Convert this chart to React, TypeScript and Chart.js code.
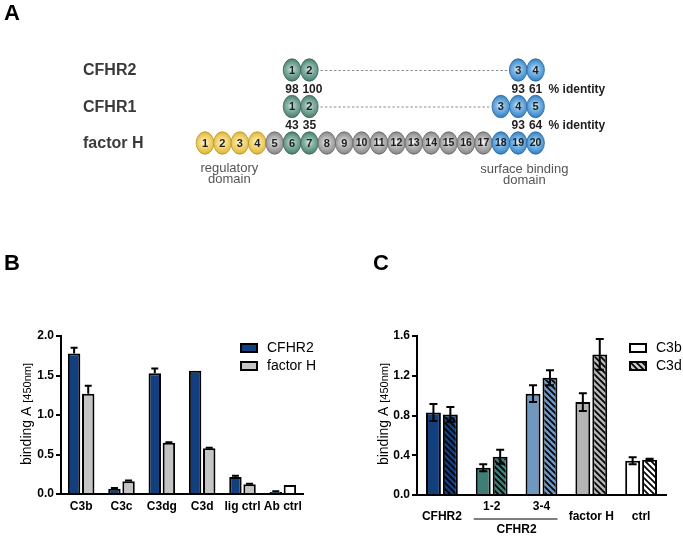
import React, { useEffect, useRef } from 'react';
import { Chart, registerables } from 'chart.js';

Chart.register(...registerables);

const FONT = '"Liberation Sans", Arial, Helvetica, sans-serif';

// ---------------- Panel A data ----------------
const proteinNames = ['CFHR2', 'CFHR1', 'factor H'];
const proteinRows = [3, 2, 1];
const cfhr2Positions = [6, 7, 19, 20];
const cfhr2Labels = ['1', '2', '3', '4'];
const cfhr2Types = ['teal', 'teal', 'blue', 'blue'];
const cfhr1Positions = [6, 7, 18, 19, 20];
const cfhr1Labels = ['1', '2', '3', '4', '5'];
const cfhr1Types = ['teal', 'teal', 'blue', 'blue', 'blue'];
const factorHPositions = [1, 2, 3, 4, 5, 6, 7, 8, 9, 10, 11, 12, 13, 14, 15, 16, 17, 18, 19, 20];
const factorHLabels = ['1', '2', '3', '4', '5', '6', '7', '8', '9', '10', '11', '12', '13', '14', '15', '16', '17', '18', '19', '20'];
const factorHTypes = ['yellow', 'yellow', 'yellow', 'yellow', 'gray', 'teal', 'teal', 'gray', 'gray', 'gray', 'gray', 'gray', 'gray', 'gray', 'gray', 'gray', 'gray', 'blue', 'blue', 'blue'];
const identityRows = [2.5, 1.5];
const identityPositions = [6, 7, 19, 20];
const identityCFHR2 = ['98', '100', '93', '61'];
const identityCFHR1 = ['43', '35', '93', '64'];

// ---------------- Panel B data ----------------
const bCategories = ['C3b', 'C3c', 'C3dg', 'C3d', 'lig ctrl', 'Ab ctrl'];
const bCFHR2 = [1.78, 0.065, 1.53, 1.56, 0.215, 0.025];
const bFactorH = [1.27, 0.16, 0.65, 0.58, 0.125, 0.115];
const bCFHR2Err = [0.07, 0.01, 0.06, 0, 0.015, 0.01];
const bFactorHErr = [0.1, 0.01, 0.005, 0.005, 0.005, 0];
const bYTicks = [0, 0.5, 1.0, 1.5, 2.0];

// ---------------- Panel C data ----------------
const cGroups = ['CFHR2', '1-2', '3-4', 'factor H', 'ctrl'];
const cC3b = [0.83, 0.275, 1.02, 0.935, 0.345];
const cC3d = [0.81, 0.385, 1.18, 1.415, 0.355];
const cC3bErr = [0.085, 0.035, 0.085, 0.09, 0.035];
const cC3dErr = [0.075, 0.07, 0.075, 0.155, 0.01];
const cYTicks = [0, 0.4, 0.8, 1.2, 1.6];

const NAVY = '#123f7e';
const GRAY = '#c4c4c4';
const cColors = ['#133f7d', '#3f7d77', '#7097c0', '#b4b4b4', '#ffffff'];

const palette: Record<string, string[]> = {
  yellow: ['#fff7d2', '#f6dc80', '#e2b93e', '#b8952e'],
  teal: ['#d2e6df', '#8ab5a8', '#4f8475', '#3a6457'],
  gray: ['#f0f0f0', '#bdbdbd', '#8c8c8c', '#686868'],
  blue: ['#d6ecfb', '#7db7e4', '#3a87c9', '#2a65a0'],
};

function drawDomain(ctx: CanvasRenderingContext2D, x: number, y: number, type: string, label: string) {
  const [c0, c1, c2, c3] = palette[type];
  const rx = 8.8;
  const ry = 11.2;
  const g = ctx.createRadialGradient(x - 0.5, y - 1, 0.5, x, y, 12);
  g.addColorStop(0, c0);
  g.addColorStop(0.35, c1);
  g.addColorStop(0.85, c2);
  g.addColorStop(1, c3);
  ctx.beginPath();
  ctx.ellipse(x, y, rx, ry, 0, 0, Math.PI * 2);
  ctx.fillStyle = g;
  ctx.fill();
  ctx.lineWidth = 0.8;
  ctx.strokeStyle = c3;
  ctx.stroke();
  ctx.fillStyle = '#1c1c1c';
  ctx.font = `bold ${label.length > 1 ? 10.5 : 11}px ${FONT}`;
  ctx.textAlign = 'center';
  ctx.textBaseline = 'middle';
  ctx.fillText(label, x, y + 0.5);
}

function makeHatch(color: string): CanvasPattern {
  const s = 6;
  const c = document.createElement('canvas');
  c.width = s;
  c.height = s;
  const g = c.getContext('2d')!;
  g.fillStyle = color;
  g.fillRect(0, 0, s, s);
  g.strokeStyle = '#000';
  g.lineWidth = 1.7;
  g.beginPath();
  g.moveTo(-1, -1);
  g.lineTo(s + 1, s + 1);
  g.moveTo(s - 1, -1);
  g.lineTo(s + 1, 1);
  g.moveTo(-1, s - 1);
  g.lineTo(1, s + 1);
  g.stroke();
  return g.createPattern(c, 'repeat')!;
}

function drawYTitle(ctx: CanvasRenderingContext2D, x: number, yc: number) {
  ctx.save();
  ctx.translate(x, yc);
  ctx.rotate(-Math.PI / 2);
  ctx.fillStyle = '#000';
  ctx.textAlign = 'left';
  ctx.textBaseline = 'alphabetic';
  const t1 = 'binding A';
  const t2 = '[450nm]';
  ctx.font = `14px ${FONT}`;
  const w1 = ctx.measureText(t1).width;
  ctx.font = `11px ${FONT}`;
  const w2 = ctx.measureText(t2).width;
  const gap = 4;
  const W = w1 + gap + w2;
  ctx.font = `14px ${FONT}`;
  ctx.fillText(t1, -W / 2, 0);
  ctx.font = `11px ${FONT}`;
  ctx.fillText(t2, -W / 2 + w1 + gap, 0);
  ctx.restore();
}

function drawLegendItem(ctx: CanvasRenderingContext2D, x: number, y: number, fill: string | CanvasPattern, text: string) {
  ctx.save();
  ctx.fillStyle = fill as any;
  ctx.fillRect(x, y, 18, 10);
  ctx.lineWidth = 2;
  ctx.strokeStyle = '#000';
  ctx.strokeRect(x + 1, y + 1, 16, 8);
  ctx.fillStyle = '#000';
  ctx.font = `14px ${FONT}`;
  ctx.textAlign = 'left';
  ctx.textBaseline = 'middle';
  ctx.fillText(text, x + 27, y + 5.5);
  ctx.restore();
}

function drawPanelLetter(ctx: CanvasRenderingContext2D, letter: string, x: number, y: number) {
  ctx.save();
  ctx.fillStyle = '#000';
  ctx.font = `bold 22px ${FONT}`;
  ctx.textAlign = 'left';
  ctx.textBaseline = 'middle';
  ctx.fillText(letter, x, y);
  ctx.restore();
}

const errorBarPlugin = {
  id: 'errorBars',
  afterDatasetsDraw(chart: any, _args: any, opts: any) {
    const ctx = chart.ctx as CanvasRenderingContext2D;
    const ys = chart.scales.y;
    ctx.save();
    ctx.strokeStyle = '#000';
    ctx.lineWidth = opts.lineWidth || 2;
    chart.data.datasets.forEach((ds: any, di: number) => {
      const errs = ds.errors;
      if (!errs) return;
      const meta = chart.getDatasetMeta(di);
      meta.data.forEach((el: any, i: number) => {
        const e = errs[i];
        if (!e) return;
        const v = ds.data[i];
        const top = ys.getPixelForValue(v + e);
        const bot = opts.both ? ys.getPixelForValue(v - e) : ys.getPixelForValue(v);
        const hw = opts.cap;
        ctx.beginPath();
        ctx.moveTo(el.x, bot);
        ctx.lineTo(el.x, top);
        ctx.moveTo(el.x - hw, top);
        ctx.lineTo(el.x + hw, top);
        if (opts.both) {
          ctx.moveTo(el.x - hw, bot);
          ctx.lineTo(el.x + hw, bot);
        }
        ctx.stroke();
      });
    });
    ctx.restore();
  },
};

const domainPlugin = {
  id: 'domains',
  afterDatasetsDraw(chart: any) {
    const ctx = chart.ctx as CanvasRenderingContext2D;
    const xs = chart.scales.x;
    const ys = chart.scales.y;
    ctx.save();
    chart.data.datasets.forEach((ds: any, di: number) => {
      const pts = chart.getDatasetMeta(di).data;
      if (ds.gapAfter != null) {
        const a = pts[ds.gapAfter];
        const b = pts[ds.gapAfter + 1];
        ctx.save();
        ctx.strokeStyle = '#8f8f8f';
        ctx.lineWidth = 1;
        ctx.setLineDash([2.5, 2]);
        ctx.beginPath();
        ctx.moveTo(a.x + 11, a.y + 0.5);
        ctx.lineTo(b.x - 11, b.y + 0.5);
        ctx.stroke();
        ctx.restore();
      }
      pts.forEach((p: any, i: number) => drawDomain(ctx, p.x, p.y, ds.domainTypes[i], ds.domainLabels[i]));
    });

    // protein names
    ctx.fillStyle = '#3a3a3a';
    ctx.font = `bold 16px ${FONT}`;
    ctx.textAlign = 'left';
    ctx.textBaseline = 'middle';
    proteinNames.forEach((n, i) => ctx.fillText(n, 83, ys.getPixelForValue(proteinRows[i]) + 1));

    // identities
    const idSets = [identityCFHR2, identityCFHR1];
    ctx.fillStyle = '#1e1e1e';
    ctx.font = `bold 12px ${FONT}`;
    idSets.forEach((set, r) => {
      const y = ys.getPixelForValue(identityRows[r]) + 1;
      ctx.textAlign = 'center';
      set.forEach((t, i) => {
        const nudge = t.length > 2 ? 3 : 0;
        ctx.fillText(t, xs.getPixelForValue(identityPositions[i]) + nudge, y);
      });
      ctx.textAlign = 'left';
      ctx.fillText('% identity', xs.getPixelForValue(20) + 13, y);
    });

    // domain annotations
    const fy = ys.getPixelForValue(1);
    ctx.fillStyle = '#555';
    ctx.font = `13px ${FONT}`;
    ctx.textAlign = 'center';
    const rx = xs.getPixelForValue(2.4);
    ctx.fillText('regulatory', rx, fy + 25);
    ctx.fillText('domain', rx, fy + 36);
    const sx = xs.getPixelForValue(19.35);
    ctx.fillText('surface binding', sx, fy + 26);
    ctx.fillText('domain', sx, fy + 37);

    ctx.restore();
    drawPanelLetter(ctx, 'A', 4, 14);
  },
};

export default function App() {
  const aRef = useRef<HTMLCanvasElement>(null);
  const bRef = useRef<HTMLCanvasElement>(null);
  const cRef = useRef<HTMLCanvasElement>(null);

  useEffect(() => {
    const charts: Chart[] = [];

    // ---------- Panel A ----------
    const unit = 17.4;
    const xMin = 1 - 205 / unit;
    const xMax = xMin + 683 / unit;
    const rowPx = 36.5;
    const yMax = 3 + 70 / rowPx;
    const yMin = yMax - 240 / rowPx;
    const mk = (pos: number[], row: number) => pos.map((p) => ({ x: p, y: row }));
    charts.push(
      new Chart(aRef.current!, {
        type: 'scatter',
        data: {
          datasets: [
            { label: 'CFHR2', data: mk(cfhr2Positions, proteinRows[0]), domainTypes: cfhr2Types, domainLabels: cfhr2Labels, gapAfter: 1 } as any,
            { label: 'CFHR1', data: mk(cfhr1Positions, proteinRows[1]), domainTypes: cfhr1Types, domainLabels: cfhr1Labels, gapAfter: 1 } as any,
            { label: 'factor H', data: mk(factorHPositions, proteinRows[2]), domainTypes: factorHTypes, domainLabels: factorHLabels } as any,
          ],
        },
        options: {
          responsive: false,
          animation: false,
          devicePixelRatio: 1,
          events: [],
          layout: { padding: 0, autoPadding: false } as any,
          elements: { point: { radius: 0, hoverRadius: 0 } },
          scales: {
            x: { type: 'linear', display: false, min: xMin, max: xMax },
            y: { type: 'linear', display: false, min: yMin, max: yMax },
          },
          plugins: { legend: { display: false }, tooltip: { enabled: false } },
        },
        plugins: [domainPlugin],
      })
    );

    const tickFont = { family: FONT, size: 12, weight: 'bold' as const };

    // ---------- Panel B ----------
    const overlayB = {
      id: 'overlayB',
      afterDraw(chart: any) {
        const ctx = chart.ctx as CanvasRenderingContext2D;
        drawPanelLetter(ctx, 'B', 4, 23.5);
        drawYTitle(ctx, 31, 174);
        drawLegendItem(ctx, 240, 103, NAVY, 'CFHR2');
        drawLegendItem(ctx, 240, 121, GRAY, 'factor H');
      },
    };
    charts.push(
      new Chart(bRef.current!, {
        type: 'bar',
        data: {
          labels: bCategories,
          datasets: [
            {
              label: 'CFHR2',
              data: bCFHR2,
              errors: bCFHR2Err,
              backgroundColor: NAVY,
              borderColor: '#000',
              borderWidth: 2,
              barPercentage: 0.88,
              categoryPercentage: 0.7,
            } as any,
            {
              label: 'factor H',
              data: bFactorH,
              errors: bFactorHErr,
              backgroundColor: bFactorH.map((_, i) => (i === bFactorH.length - 1 ? '#ffffff' : GRAY)),
              borderColor: '#000',
              borderWidth: 2,
              barPercentage: 0.88,
              categoryPercentage: 0.7,
            } as any,
          ],
        },
        options: {
          responsive: false,
          animation: false,
          devicePixelRatio: 1,
          events: [],
          layout: { padding: { left: 0, right: 37, top: 96, bottom: 0 } },
          scales: {
            x: {
              z: 1,
              grid: { display: false, drawTicks: false },
              border: { display: true, color: '#000', width: 2 },
              ticks: { color: '#000', font: tickFont, padding: 5, maxRotation: 0, autoSkip: false },
              afterFit: (s: any) => {
                s.height = 43;
              },
            },
            y: {
              min: 0,
              max: 2,
              grid: { display: true, drawOnChartArea: false, drawTicks: true, tickLength: 5, color: '#000', lineWidth: 2 },
              border: { display: true, color: '#000', width: 2 },
              ticks: { color: '#000', font: tickFont, padding: 2, callback: (v: any) => Number(v).toFixed(1) },
              afterBuildTicks: (s: any) => {
                s.ticks = bYTicks.map((v) => ({ value: v }));
              },
              afterFit: (s: any) => {
                s.width = 61;
              },
            },
          } as any,
          plugins: {
            legend: { display: false },
            tooltip: { enabled: false },
            errorBars: { both: false, cap: 3.5, lineWidth: 2 },
          } as any,
        },
        plugins: [errorBarPlugin, overlayB],
      })
    );

    // ---------- Panel C ----------
    const hatches = cColors.map((c) => makeHatch(c));
    const legendHatch = makeHatch('#c8c8c8');
    const overlayC = {
      id: 'overlayC',
      afterDraw(chart: any) {
        const ctx = chart.ctx as CanvasRenderingContext2D;
        const xs = chart.scales.x;
        drawPanelLetter(ctx, 'C', 33, 23.5);
        drawYTitle(ctx, 48, 174);
        drawLegendItem(ctx, 289, 103, '#ffffff', 'C3b');
        drawLegendItem(ctx, 289, 121, legendHatch, 'C3d');
        ctx.save();
        ctx.fillStyle = '#000';
        ctx.font = `bold 12px ${FONT}`;
        ctx.textAlign = 'center';
        ctx.textBaseline = 'middle';
        const base = chart.chartArea.bottom;
        cGroups.forEach((g, i) => {
          const sub = i === 1 || i === 2;
          ctx.fillText(g, xs.getPixelForValue(i), base + (sub ? 12 : 22));
        });
        const x1 = xs.getPixelForValue(1) - 18;
        const x2 = xs.getPixelForValue(2) + 16;
        ctx.strokeStyle = '#000';
        ctx.lineWidth = 1.2;
        ctx.beginPath();
        ctx.moveTo(x1, base + 24);
        ctx.lineTo(x2, base + 24);
        ctx.stroke();
        ctx.fillText('CFHR2', (xs.getPixelForValue(1) + xs.getPixelForValue(2)) / 2, base + 35);
        ctx.restore();
      },
    };
    charts.push(
      new Chart(cRef.current!, {
        type: 'bar',
        data: {
          labels: cGroups,
          datasets: [
            {
              label: 'C3b',
              data: cC3b,
              errors: cC3bErr,
              backgroundColor: cColors,
              borderColor: '#000',
              borderWidth: 2,
              barPercentage: 0.88,
              categoryPercentage: 0.68,
            } as any,
            {
              label: 'C3d',
              data: cC3d,
              errors: cC3dErr,
              backgroundColor: hatches,
              borderColor: '#000',
              borderWidth: 2,
              barPercentage: 0.88,
              categoryPercentage: 0.68,
            } as any,
          ],
        },
        options: {
          responsive: false,
          animation: false,
          devicePixelRatio: 1,
          events: [],
          layout: { padding: { left: 0, right: 17, top: 96, bottom: 0 } },
          scales: {
            x: {
              z: 1,
              grid: { display: false, drawTicks: false },
              border: { display: true, color: '#000', width: 2 },
              ticks: { display: false },
              afterFit: (s: any) => {
                s.height = 42;
              },
            },
            y: {
              min: 0,
              max: 1.6,
              grid: { display: true, drawOnChartArea: false, drawTicks: true, tickLength: 5, color: '#000', lineWidth: 2 },
              border: { display: true, color: '#000', width: 2 },
              ticks: { color: '#000', font: tickFont, padding: 2, callback: (v: any) => Number(v).toFixed(1) },
              afterBuildTicks: (s: any) => {
                s.ticks = cYTicks.map((v) => ({ value: v }));
              },
              afterFit: (s: any) => {
                s.width = 77;
              },
            },
          } as any,
          plugins: {
            legend: { display: false },
            tooltip: { enabled: false },
            errorBars: { both: true, cap: 4, lineWidth: 2 },
          } as any,
        },
        plugins: [errorBarPlugin, overlayC],
      })
    );

    return () => charts.forEach((c) => c.destroy());
  }, []);

  return (
    <div style={{ position: 'fixed', left: 0, top: 0, width: 683, height: 537, background: '#ffffff', overflow: 'hidden' }}>
      <canvas ref={aRef} width={683} height={240} style={{ position: 'absolute', left: 0, top: 0 }} />
      <canvas ref={bRef} width={340} height={297} style={{ position: 'absolute', left: 0, top: 240 }} />
      <canvas ref={cRef} width={343} height={297} style={{ position: 'absolute', left: 340, top: 240 }} />
    </div>
  );
}
